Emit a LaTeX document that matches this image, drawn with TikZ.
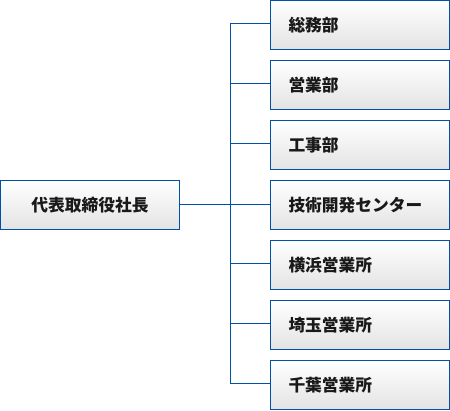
\documentclass[tikz,border=0pt]{standalone}
\usepackage{fontspec}
\setmainfont{Noto Sans CJK JP}
\definecolor{bl}{HTML}{0050A5}
\definecolor{bot}{HTML}{E3E3E3}
\begin{document}
\begin{tikzpicture}[x=1bp,y=-1bp,
  box/.style={draw=bl, line width=1bp, shading=axis, top color=white, bottom color=bot,
    minimum height=49bp, font=\fontsize{16.8}{20}\selectfont\bfseries, text=black!90, anchor=north west},
  dept/.style={box, text width=143bp, align=left, inner xsep=18bp},
  conn/.style={draw=bl, line width=1bp}]
\useasboundingbox (0,0) rectangle (450,410);
\node[box, minimum width=179bp] (ceo) at (0,180) {代表取締役社長};
\node[dept] (d1) at (270,0) {総務部};
\node[dept] (d2) at (270,60) {営業部};
\node[dept] (d3) at (270,120) {工事部};
\node[dept] (d4) at (270,180) {技術開発センター};
\node[dept] (d5) at (270,240) {横浜営業所};
\node[dept] (d6) at (270,300) {埼玉営業所};
\node[dept] (d7) at (270,360) {千葉営業所};
\coordinate (j) at (230.5,204);
\draw[conn] (ceo.east |- j) -- (j);
\draw[conn] ([yshift=1.5bp]d1.west) -- ([yshift=1.5bp]d1.west -| j) -- ([yshift=1.5bp]d7.west -| j) -- ([yshift=1.5bp]d7.west);
\foreach \i in {2,3,5,6} \draw[conn] ([yshift=1.5bp]d\i.west) -- ([yshift=1.5bp]d\i.west -| j);
\draw[conn] (d4.west |- j) -- (j);
\end{tikzpicture}
\end{document}
